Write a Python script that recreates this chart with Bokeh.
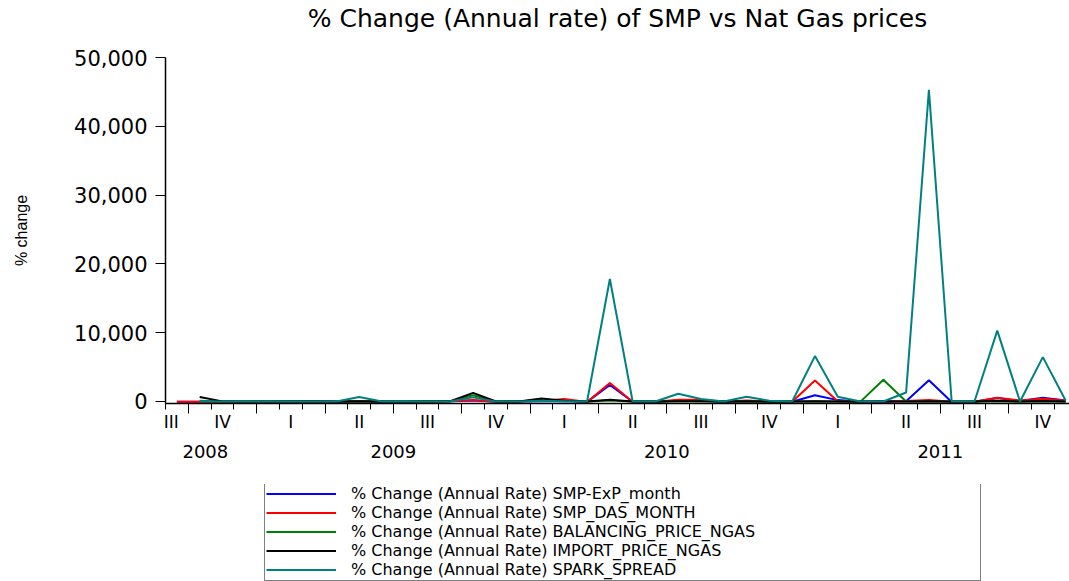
import numpy as np
from bokeh.plotting import figure
from bokeh.layouts import column
from bokeh.models import (ColumnDataSource, FixedTicker, LinearAxis, Legend, LegendItem,
                          NumeralTickFormatter, Range1d, CustomLabelingPolicy)
from bokeh.embed import file_html
from bokeh.resources import INLINE

NaN = float("nan")

# ---- data (monthly, Sep 2008 .. Dec 2011) ----
months = ["2008-09", "2008-10", "2008-11", "2008-12",
          "2009-01", "2009-02", "2009-03", "2009-04", "2009-05", "2009-06",
          "2009-07", "2009-08", "2009-09", "2009-10", "2009-11", "2009-12",
          "2010-01", "2010-02", "2010-03", "2010-04", "2010-05", "2010-06",
          "2010-07", "2010-08", "2010-09", "2010-10", "2010-11", "2010-12",
          "2011-01", "2011-02", "2011-03", "2011-04", "2011-05", "2011-06",
          "2011-07", "2011-08", "2011-09", "2011-10", "2011-11", "2011-12"]

smp_exp_month = [-20, -50, -60, -40, -30, -10, 20, -40, 60, -30, -20, 10, 20, 150, -50, 0,
                 40, 80, -60, 2400, -40, -20, 150, 120, -50, 60, -30, -40,
                 900, 200, -40, -20, 40, 3100, -60, -30, 500, 80, 550, 150]
smp_das_month = [-20, -40, -60, -30, -20, 10, 30, -30, 80, -20, -10, 20, 30, 200, -40, 50,
                 80, 350, -60, 2700, -50, -20, 250, 250, -40, 150, -20, -30,
                 3050, 50, -40, 0, 60, 200, -50, -40, 550, 150, 400, 150]
balancing_price_ngas = [NaN, 100, 0, -20, 0, -10, 0, -20, 50, 0, -10, 0, 20, 900, 0, -20,
                        300, 100, -10, 150, 0, -10, 50, 50, 0, 50, -10, 0,
                        50, 0, -20, 3150, -10, 0, 0, -10, 50, 0, 50, 0]
import_price_ngas = [NaN, 650, 20, 0, -10, 0, 10, 0, 30, 0, -10, 0, 30, 1250, 0, 0,
                     450, 100, 0, 250, 0, 0, 50, 30, 0, 50, 0, 0,
                     50, 0, 0, 30, 0, 50, 0, 0, 100, 0, 60, 0]
spark_spread = [NaN, 50, 0, 0, 0, 0, 0, 0, 650, 0, 50, 0, 50, 600, 0, 0,
                100, 50, 0, 17800, 0, 0, 1130, 350, 0, 700, 100, 0,
                6600, 700, 0, 0, 1300, 45300, 0, 0, 10300, 0, 6450, 150]

series_names = ["% Change (Annual Rate) SMP-ExP_month",
                "% Change (Annual Rate) SMP_DAS_MONTH",
                "% Change (Annual Rate) BALANCING_PRICE_NGAS",
                "% Change (Annual Rate) IMPORT_PRICE_NGAS",
                "% Change (Annual Rate) SPARK_SPREAD"]
series_colors = ["#0000FF", "#FF0000", "#008000", "#000000", "#008080"]

quarter_labels = ["III", "IV", "I", "II", "III", "IV", "I", "II", "III", "IV",
                  "I", "II", "III", "IV"]
year_labels = ["2008", "2009", "2010", "2011"]
y_ticks = [0, 10000, 20000, 30000, 40000, 50000]


# ---- positions: months since Jan 2009, observations centred in their month ----
def month_index(s):
    y, m = s.split("-")
    return (int(y) - 2009) * 12 + int(m) - 1


x = np.array([month_index(m) + 0.5 for m in months])
x_start, x_end = -4.0, 35.67

src = ColumnDataSource(dict(x=x,
                            s0=np.array(smp_exp_month, dtype=float),
                            s1=np.array(smp_das_month, dtype=float),
                            s2=np.array(balancing_price_ngas, dtype=float),
                            s3=np.array(import_price_ngas, dtype=float),
                            s4=np.array(spark_spread, dtype=float)))

FONT = "DejaVu Sans"
HIDE = CustomLabelingPolicy(code="return []")
LEFT = 165

p = figure(width=1069, height=484, output_backend="svg", toolbar_location=None,
           x_range=Range1d(x_start, x_end), y_range=Range1d(-291, 50000),
           x_axis_type=None, min_border_left=LEFT, min_border_right=0,
           min_border_top=57, min_border_bottom=81,
           title="% Change (Annual rate) of SMP vs Nat Gas prices")
p.outline_line_color = None
p.grid.visible = False
p.background_fill_color = "white"
p.border_fill_color = "white"

p.title.align = "center"
p.title.text_font = FONT
p.title.text_font_size = "25px"
p.title.text_font_style = "normal"
p.title.text_color = "black"
p.title.standoff = 0

# invisible spacer between title and frame (white tick, label hidden)
sp = LinearAxis(ticker=FixedTicker(ticks=[10.0], minor_ticks=[]), axis_line_color=None,
                major_tick_line_color="white", minor_tick_line_color=None,
                major_tick_out=21, major_tick_in=0, minor_tick_out=0, minor_tick_in=0,
                major_label_standoff=0, major_label_text_font_size="1px",
                major_label_policy=HIDE)
p.add_layout(sp, "above")

# y axis
ya = p.yaxis[0]
ya.ticker = FixedTicker(ticks=y_ticks)
ya.formatter = NumeralTickFormatter(format="0,0")
ya.major_tick_out = 10
ya.major_tick_in = 0
ya.minor_tick_line_color = None
ya.axis_line_width = 1.5
ya.major_tick_line_width = 1
ya.major_label_text_font = FONT
ya.major_label_text_font_size = "21px"
ya.major_label_text_color = "black"
ya.major_label_standoff = 8
ya.axis_label = "% change"
ya.axis_label_text_font = "Liberation Sans"
ya.axis_label_text_font_size = "16px"
ya.axis_label_text_font_style = "normal"
ya.axis_label_text_color = "black"
ya.axis_label_standoff = 41

# x axis: tick marks only (quarters long, months short)
quarter_bounds = list(range(-3, 36, 3))
month_bounds = list(range(-4, 36))
xa = LinearAxis(ticker=FixedTicker(ticks=quarter_bounds, minor_ticks=month_bounds))
xa.major_tick_out = 10
xa.major_tick_in = 0
xa.minor_tick_out = 6
xa.minor_tick_in = 0
xa.axis_line_width = 1.5
xa.major_label_text_font_size = "1px"
xa.major_label_standoff = 0
xa.major_label_policy = HIDE
p.add_layout(xa, "below")

# quarter labels (centred in each quarter)
q_pos = ([-3.75] + [q + 1.5 for q in quarter_bounds])[:len(quarter_labels)]
xq = LinearAxis(ticker=FixedTicker(ticks=q_pos, minor_ticks=[]))
xq.major_label_overrides = {float(v): t for v, t in zip(q_pos, quarter_labels)}
xq.axis_line_color = None
xq.major_tick_line_color = None
xq.minor_tick_line_color = None
xq.major_tick_out = 0
xq.major_tick_in = 0
xq.minor_tick_out = 0
xq.minor_tick_in = 0
xq.major_label_standoff = -6
xq.major_label_text_font = FONT
xq.major_label_text_font_size = "17px"
xq.major_label_text_color = "black"
p.add_layout(xq, "below")

# year labels
y_pos = [-2.25, 6.0, 18.0, 30.0]
xy = LinearAxis(ticker=FixedTicker(ticks=y_pos, minor_ticks=[]))
xy.major_label_overrides = {float(v): t for v, t in zip(y_pos, year_labels)}
xy.axis_line_color = None
xy.major_tick_line_color = None
xy.minor_tick_line_color = None
xy.major_tick_out = 0
xy.major_tick_in = 0
xy.minor_tick_out = 0
xy.minor_tick_in = 0
xy.major_label_standoff = 10
xy.major_label_text_font = FONT
xy.major_label_text_font_size = "18px"
xy.major_label_text_color = "black"
p.add_layout(xy, "below")

renderers = []
for i, c in enumerate(series_colors):
    r = p.line("x", f"s{i}", source=src, line_color=c, line_width=2)
    renderers.append(r)

# ---- legend panel (below the chart) ----
lg = figure(width=1069, height=97, output_backend="svg", toolbar_location=None,
            x_range=Range1d(0, 1), y_range=Range1d(0, 1),
            x_axis_type=None, y_axis_type=None,
            min_border_left=LEFT, min_border_right=0, min_border_top=0, min_border_bottom=0)
lg.outline_line_color = None
lg.grid.visible = False
lg.background_fill_color = "white"
lg.border_fill_color = "white"

# legend keys only (a single missing value each: nothing is drawn in the panel)
key_renderers = [lg.line(x=[NaN], y=[NaN], line_color=c, line_width=2) for c in series_colors]
legend = Legend(items=[LegendItem(label=n, renderers=[r]) for n, r in zip(series_names, key_renderers)],
                location=(99, 0))
legend.label_text_font = FONT
legend.label_text_font_size = "16px"
legend.label_text_color = "black"
legend.glyph_width = 70
legend.glyph_height = 19
legend.label_height = 19
legend.label_standoff = 15
legend.label_width = 628
legend.padding = 1
legend.spacing = 0
legend.margin = 0
legend.border_line_color = "black"
legend.border_line_width = 1
legend.background_fill_color = "white"
legend.background_fill_alpha = 1
lg.add_layout(legend, "center")

layout = column(p, lg, spacing=0)
open("out.html", "w").write(file_html(layout, INLINE))
